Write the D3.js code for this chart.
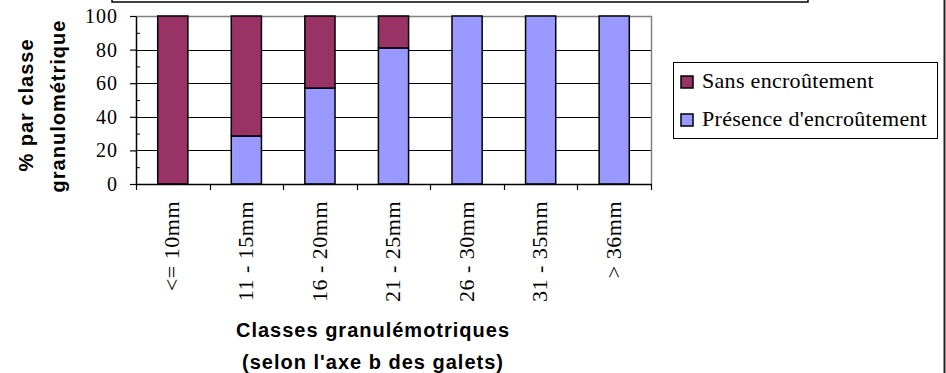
<!DOCTYPE html>
<html>
<head>
<meta charset="utf-8">
<script src="https://cdn.jsdelivr.net/npm/d3@7"></script>
<style>
  html, body { margin: 0; padding: 0; background: #fff; }
  svg { display: block; }
</style>
</head>
<body>
<svg id="chart" width="946" height="373"></svg>
<script>
// Size classes (b axis of the pebbles)
const categories = ["<= 10mm", "11 - 15mm", "16 - 20mm", "21 - 25mm", "26 - 30mm", "31 - 35mm", "> 36mm"];
// Percentage of pebbles per class
const presence = [0, 28.6, 57.1, 81, 100, 100, 100];   // Présence d'encroûtement
const sans     = [100, 71.4, 42.9, 19, 0, 0, 0];        // Sans encroûtement
const seriesNames = ["Présence d'encroûtement", "Sans encroûtement"];
const legendOrder = ["Sans encroûtement", "Présence d'encroûtement"];
const yTicks = [0, 20, 40, 60, 80, 100];
const yMinorTicks = [10, 30, 50, 70, 90];

const colors = { "Présence d'encroûtement": "#9999FF", "Sans encroûtement": "#993366" };

const svg = d3.select("#chart");
const plot = { left: 136, right: 651, top: 16, bottom: 184 };

const x = d3.scaleBand().domain(categories).range([plot.left, plot.right]).padding(0);
const y = d3.scaleLinear().domain([0, 100]).range([plot.bottom, plot.top]);

// Title box peeking in at the top edge
svg.append("rect")
  .attr("x", 112).attr("y", -20).attr("width", 696).attr("height", 22)
  .attr("fill", "#fff").attr("stroke", "#000").attr("stroke-width", 1.5);
// Outer frame, right side
svg.append("line")
  .attr("x1", 944.5).attr("x2", 944.5).attr("y1", 0).attr("y2", 373)
  .attr("stroke", "#222").attr("stroke-width", 2);

// Gridlines
svg.append("g").selectAll("line")
  .data(yTicks.filter(d => d > 0 && d < 100))
  .join("line")
  .attr("x1", plot.left).attr("x2", plot.right)
  .attr("y1", d => Math.round(y(d)) + 0.5).attr("y2", d => Math.round(y(d)) + 0.5)
  .attr("stroke", "#000").attr("stroke-width", 1);

// Plot area border (top & right)
svg.append("path")
  .attr("d", `M${plot.left},${plot.top + 0.5}H${plot.right + 0.5}V${plot.bottom}`)
  .attr("fill", "none").attr("stroke", "#808080").attr("stroke-width", 1.5);

// Stacked bars
const rows = categories.map((c, i) => ({ cat: c, "Présence d'encroûtement": presence[i], "Sans encroûtement": sans[i] }));
const stacked = d3.stack().keys(seriesNames)(rows);
const barW = x.bandwidth() * 0.41;

svg.append("g").selectAll("g")
  .data(stacked)
  .join("g")
  .attr("fill", d => colors[d.key])
  .selectAll("rect")
  .data(d => d.filter(p => p[1] - p[0] > 0))
  .join("rect")
  .attr("x", d => x(d.data.cat) + (x.bandwidth() - barW) / 2)
  .attr("width", barW)
  .attr("y", d => y(d[1]))
  .attr("height", d => y(d[0]) - y(d[1]))
  .attr("stroke", "#000").attr("stroke-width", 1.5);

// Y axis
const yAxis = svg.append("g")
  .attr("transform", `translate(${plot.left},0)`)
  .call(d3.axisLeft(y).tickValues(yTicks).tickSize(6).tickPadding(12).tickSizeOuter(0));
yAxis.select(".domain").attr("stroke", "#000").attr("stroke-width", 1.5);
yAxis.selectAll(".tick line").attr("stroke", "#000").attr("stroke-width", 1.2);
yAxis.selectAll("text")
  .attr("font-family", "'Liberation Serif', 'Times New Roman', serif")
  .attr("font-size", 20).attr("letter-spacing", 1).attr("fill", "#000");

const yMinor = svg.append("g")
  .attr("transform", `translate(${plot.left},0)`)
  .call(d3.axisRight(y).tickValues(yMinorTicks).tickSize(4).tickFormat(""));
yMinor.select(".domain").remove();
yMinor.selectAll(".tick line").attr("stroke", "#000").attr("stroke-width", 1);

// X axis baseline with boundary ticks
svg.append("line")
  .attr("x1", plot.left).attr("x2", plot.right + 0.5)
  .attr("y1", plot.bottom + 0.5).attr("y2", plot.bottom + 0.5)
  .attr("stroke", "#000").attr("stroke-width", 1.5);
const bounds = categories.map(c => x(c)).concat([plot.right]);
svg.append("g").selectAll("line")
  .data(bounds)
  .join("line")
  .attr("x1", d => Math.round(d) + 0.5).attr("x2", d => Math.round(d) + 0.5)
  .attr("y1", plot.bottom).attr("y2", plot.bottom + 6)
  .attr("stroke", "#000").attr("stroke-width", 1.2);

// Category labels (rotated)
const xAxis = svg.append("g")
  .attr("transform", `translate(0,${plot.bottom})`)
  .call(d3.axisBottom(x).tickSize(0).tickPadding(0));
xAxis.select(".domain").remove();
xAxis.selectAll("text")
  .attr("font-family", "'Liberation Serif', 'Times New Roman', serif")
  .attr("font-size", 22).attr("letter-spacing", 0.5).attr("fill", "#000")
  .attr("text-anchor", "end")
  .attr("transform", "rotate(-90)")
  .attr("x", -17).attr("y", 0).attr("dy", "0.3em");

// Axis titles
const titleFont = "'Liberation Sans', Arial, sans-serif";
const xTitle = svg.append("text")
  .attr("font-family", titleFont).attr("font-weight", "bold")
  .attr("font-size", 20).attr("letter-spacing", 1).attr("text-anchor", "middle");
xTitle.append("tspan").attr("x", 373).attr("y", 337).text("Classes granulémotriques");
xTitle.append("tspan").attr("x", 373).attr("y", 369).text("(selon l'axe b des galets)");

const yTitle = svg.append("text")
  .attr("font-family", titleFont).attr("font-weight", "bold")
  .attr("font-size", 20).attr("letter-spacing", 1).attr("text-anchor", "middle")
  .attr("transform", "rotate(-90)");
yTitle.append("tspan").attr("x", -105).attr("y", 33).text("% par classe");
yTitle.append("tspan").attr("x", -106).attr("y", 65).text("granulométrique");

// Legend
const legend = svg.append("g");
legend.append("rect")
  .attr("x", 673.5).attr("y", 62.5).attr("width", 264).attr("height", 76)
  .attr("fill", "#fff").attr("stroke", "#000").attr("stroke-width", 1);
const items = legend.selectAll("g.item")
  .data(legendOrder)
  .join("g").attr("class", "item")
  .attr("transform", (d, i) => `translate(681,${76 + i * 38})`);
items.append("rect")
  .attr("width", 12).attr("height", 12)
  .attr("fill", d => colors[d]).attr("stroke", "#000").attr("stroke-width", 1.5);
items.append("text")
  .attr("x", 21).attr("y", 12)
  .attr("font-family", "'Liberation Serif', 'Times New Roman', serif")
  .attr("font-size", 22).attr("letter-spacing", 0.3).attr("fill", "#000")
  .text(d => d);
</script>
</body>
</html>
